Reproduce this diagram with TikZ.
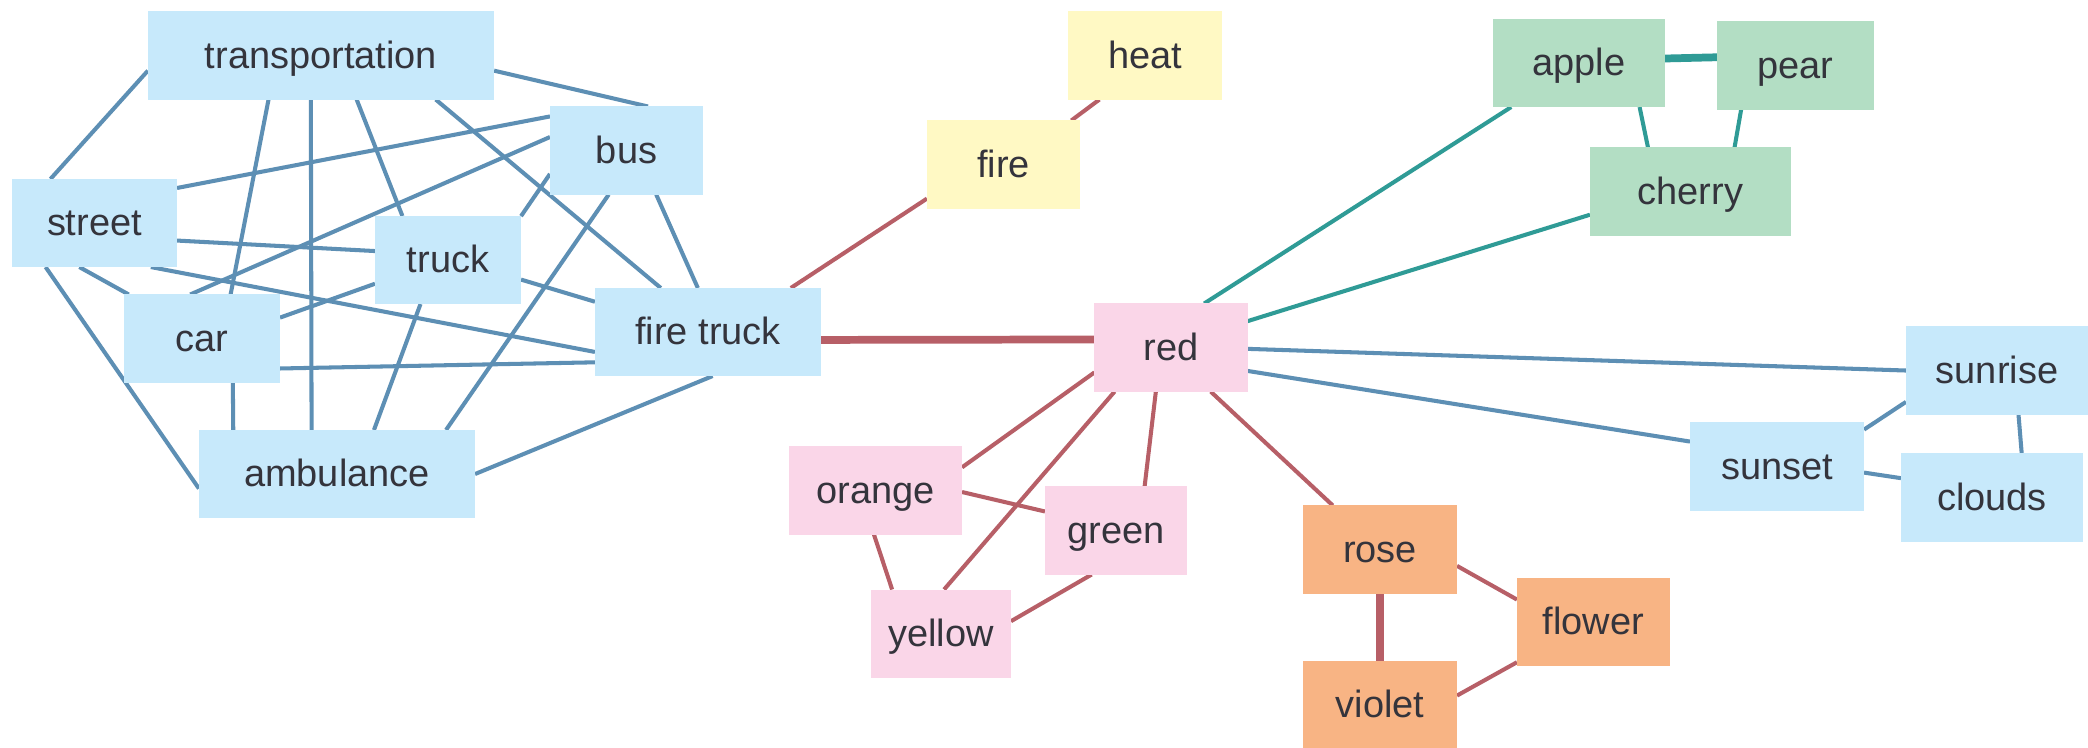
\documentclass[tikz,border=0pt]{standalone}
\usepackage{fontspec}
\setmainfont{Liberation Sans}
\usetikzlibrary{backgrounds}
\definecolor{wordgray}{RGB}{52, 52, 60}
\definecolor{skyfill}{RGB}{199, 233, 251}
\definecolor{sunfill}{RGB}{255, 249, 196}
\definecolor{leaffill}{RGB}{179, 222, 196}
\definecolor{rosefill}{RGB}{250, 214, 232}
\definecolor{peachfill}{RGB}{248, 180, 132}
\definecolor{steelline}{RGB}{93, 143, 180}
\definecolor{brickline}{RGB}{183, 95, 103}
\definecolor{tealline}{RGB}{47, 155, 150}

\tikzset{
  word/.style={rectangle, inner sep=0pt, outer sep=0pt, minimum height=0.88cm,
    text height=0.72em, text depth=0pt,
    text=wordgray, font=\fontsize{10.8}{13}\selectfont},
  skyword/.style={word, fill=skyfill},
  sunword/.style={word, fill=sunfill},
  leafword/.style={word, fill=leaffill},
  roseword/.style={word, fill=rosefill},
  peachword/.style={word, fill=peachfill},
  steellink/.style={steelline, line width=1.15pt},
  bricklink/.style={brickline, line width=1.15pt},
  teallink/.style={tealline, line width=1.15pt},
  heavy/.style={line width=2.2pt}
}

\begin{document}
\begin{tikzpicture}[x=0.01cm, y=-0.01cm]
    \useasboundingbox (0,0) rectangle (2088,747);

    % Vehicles
    \node[skyword, minimum width=3.46cm] (transportation) at (321,55.5) {transportation};
    \node[skyword, minimum width=1.53cm] (bus) at (626.5,150.5) {bus};
    \node[skyword, minimum width=1.65cm] (street) at (94.5,223) {street};
    \node[skyword, minimum width=1.46cm] (truck) at (448,260) {truck};
    \node[skyword, minimum width=1.56cm] (car) at (202,338.5) {car};
    \node[skyword, minimum width=2.26cm] (firetruck) at (708,332) {fire truck};
    \node[skyword, minimum width=2.76cm] (ambulance) at (337,474) {ambulance};

    % Fire
    \node[sunword, minimum width=1.54cm] (heat) at (1145,55.5) {heat};
    \node[sunword, minimum width=1.53cm] (fire) at (1003.5,164.5) {fire};

    % Colours
    \node[roseword, minimum width=1.53cm] (red) at (1171,347.5) {red};
    \node[roseword, minimum width=1.73cm] (orange) at (875.5,490.5) {orange};
    \node[roseword, minimum width=1.42cm] (green) at (1116,530.5) {green};
    \node[roseword, minimum width=1.40cm] (yellow) at (941,633.5) {yellow};

    % Fruit
    \node[leafword, minimum width=1.72cm] (apple) at (1579,63) {apple};
    \node[leafword, minimum width=1.57cm] (pear) at (1795.5,65.5) {pear};
    \node[leafword, minimum width=2.01cm] (cherry) at (1690.5,191.5) {cherry};

    % Flowers
    \node[peachword, minimum width=1.54cm] (rose) at (1380,549.5) {rose};
    \node[peachword, minimum width=1.53cm] (flower) at (1593.5,621.5) {flower};
    \node[peachword, minimum width=1.54cm] (violet) at (1380,705) {violet};

    % Sky
    \node[skyword, minimum width=1.82cm] (sunrise) at (1997,370.5) {sunrise};
    \node[skyword, minimum width=1.74cm] (sunset) at (1777,466.5) {sunset};
    \node[skyword, minimum width=1.82cm] (clouds) at (1992,497.5) {clouds};

    \begin{scope}[on background layer]
        \fill[white] (0,0) rectangle (2088,747);

        % Vehicle links
        \draw[steellink] (transportation.185) -- (street.135);
        \draw[steellink] (transportation.-5.8) -- (bus.64.2);
        \draw[steellink] (transportation.220.8) -- (car.57.2);
        \draw[steellink] (transportation.-103) -- (ambulance.120.9);
        \draw[steellink] (transportation.-51) -- (truck.136.5);
        \draw[steellink] (transportation.-21.7) -- (firetruck.137.2);
        \draw[steellink] (street.23.9) -- (bus.156.6);
        \draw[steellink] (car.105.4) -- (bus.170.1);
        \draw[steellink] (truck.31.8) -- (bus.197.5);
        \draw[steellink] (ambulance.22.2) -- (bus.248.4);
        \draw[steellink] (bus.-56.9) -- (firetruck.103.9);
        \draw[steellink] (street.-12.2) -- (truck.173);
        \draw[steellink] (street.-109) -- (car.149.4);
        \draw[steellink] (street.-138.3) -- (ambulance.186.2);
        \draw[steellink] (street.-38.3) -- (firetruck.190);
        \draw[steellink] (car.15.5) -- (truck.198.2);
        \draw[steellink] (car.-55.4) -- (ambulance.157.3);
        \draw[steellink] (car.-21.5) -- (firetruck.195.7);
        \draw[steellink] (truck.-15.6) -- (firetruck.165.7);
        \draw[steellink] (truck.-122.8) -- (ambulance.50);
        \draw[steellink] (firetruck.-84.9) -- (ambulance.0);

        % Red links
        \draw[bricklink] (firetruck.28.6) -- (fire.204.9);
        \draw[bricklink] (fire.33.8) -- (heat.224);
        \draw[bricklink, heavy] (firetruck.-4) -- (red.174.4);
        \draw[bricklink] (red.198.5) -- (orange.15.4);
        \draw[bricklink] (red.218) -- (yellow.86.5);
        \draw[bricklink] (red.251.4) -- (green.57.3);
        \draw[bricklink] (red.-48.3) -- (rose.137.2);
        \draw[bricklink] (orange.-1) -- (green.165.4);
        \draw[bricklink] (orange.-92.4) -- (yellow.138.9);
        \draw[bricklink] (green.241.5) -- (yellow.10.9);
        \draw[bricklink, heavy] (rose.south) -- (violet.north);
        \draw[bricklink] (rose.-12.8) -- (flower.164.5);
        \draw[bricklink] (violet.7.4) -- (flower.208.2);

        % Fruit links
        \draw[teallink] (red.53.4) -- (apple.213.3);
        \draw[teallink] (red.19.8) -- (cherry.193.7);
        \draw[teallink, heavy] (apple.3.3) -- (pear.174.5);
        \draw[teallink] (apple.-36.3) -- (cherry.134.7);
        \draw[teallink] (pear.219.8) -- (cherry.45.7);

        % Sky links
        \draw[steellink] (red.-1.1) -- (sunrise.180.3);
        \draw[steellink] (red.-17.8) -- (sunset.164.3);
        \draw[steellink] (sunset.23.9) -- (sunrise.199.9);
        \draw[steellink] (sunrise.-64) -- (clouds.56.3);
        \draw[steellink] (sunset.-4.9) -- (clouds.168.2);
    \end{scope}
\end{tikzpicture}
\end{document}
